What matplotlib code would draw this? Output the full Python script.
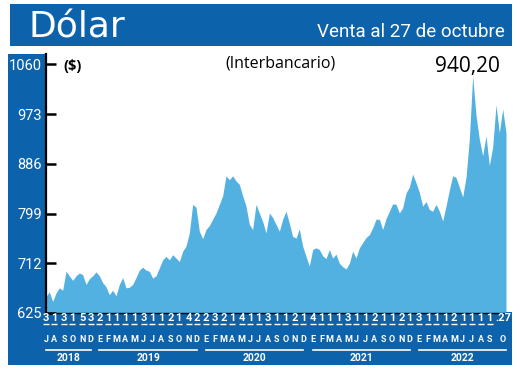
import matplotlib
matplotlib.use("Agg")
import matplotlib.pyplot as plt
import matplotlib.dates as mdates
from matplotlib.patches import Rectangle
from matplotlib.lines import Line2D
import matplotlib.transforms as mtrans
import pandas as pd

# ---------------- data ----------------
start_date = "2018-07-03"
end_date = "2022-10-27"
values = [654, 662, 645, 660, 669, 665, 698, 690, 682, 690,
          695, 692, 675, 685, 690, 697, 690, 678, 671, 657,
          665, 655, 675, 687, 669, 670, 675, 687, 700, 705,
          700, 698, 686, 690, 704, 718, 724, 718, 727, 721,
          715, 733, 742, 765, 815, 810, 768, 755, 771, 778,
          789, 800, 815, 830, 865, 858, 865, 856, 850, 830,
          812, 780, 771, 815, 800, 785, 765, 800, 792, 780,
          768, 789, 803, 782, 759, 756, 772, 742, 724, 707,
          736, 739, 736, 725, 720, 736, 721, 728, 712, 706,
          702, 712, 733, 721, 739, 748, 757, 762, 774, 789,
          789, 771, 790, 803, 816, 815, 800, 809, 835, 845,
          868, 853, 836, 812, 820, 806, 803, 815, 803, 786,
          812, 840, 865, 862, 845, 828, 862, 929, 1040, 971,
          929, 900, 935, 883, 915, 989, 940, 982, 940.2]

y_ticks = [625, 712, 799, 886, 973, 1060]
y_ticklabels = ["625", "712", "799", "886", "973", "1060"]

# first business day of each month, Jul 2018 .. Sep 2022
tick_days = [3, 1, 3, 1, 5, 3,
             2, 1, 1, 1, 1, 3, 1, 1, 2, 1, 4, 2,
             2, 3, 2, 1, 4, 1, 1, 3, 1, 1, 2, 1,
             4, 1, 1, 1, 3, 1, 1, 2, 1, 1, 2, 1,
             3, 1, 1, 1, 2, 1, 1, 1, 1]
last_label = ".27"
month_letters = ["J", "A", "S", "O", "N", "D"] + \
                ["E", "F", "M", "A", "M", "J", "J", "A", "S", "O", "N", "D"] * 3 + \
                ["E", "F", "M", "A", "M", "J", "J", "A", "S", "O"]
years = [2018, 2019, 2020, 2021, 2022]

title = "Dólar"
subtitle = "Venta al 27 de octubre"
unit = "($)"
market = "(Interbancario)"
last_value_text = "940,20"

# ---------------- style ----------------
W, H = 520, 369
BLUE = '#0d63ab'
FILL = '#53b1e2'
NARROW = 'Roboto'

fig = plt.figure(figsize=(W / 100, H / 100), dpi=100)
fig.patch.set_facecolor('white')


def fx(x):
    return x / W


def fy(y):
    return 1 - y / H


def rect(x0, y0, x1, y1, color, z=0.5):
    fig.patches.append(Rectangle((fx(x0), fy(y1)), fx(x1) - fx(x0), fy(y0) - fy(y1),
                                 transform=fig.transFigure, figure=fig,
                                 facecolor=color, edgecolor='none', zorder=z))


# banner, left column and bottom band
rect(10, 4, 512, 46, BLUE)
rect(8, 54, 46, 365, BLUE)
rect(8, 312, 512, 365, BLUE)

ax = fig.add_axes([fx(46), fy(313), fx(506) - fx(46), fy(54) - fy(313)], zorder=2)
ax.patch.set_alpha(0)

dates = pd.date_range(start_date, end_date, periods=len(values))
ax.fill_between(dates, values, 600, color=FILL, lw=0)
ax.set_xlim(dates[0], dates[-1])
ax.set_ylim(625, 1078)
ax.set_xticks([])
ax.set_yticks(y_ticks)
ax.set_yticklabels(y_ticklabels, color='white', fontsize=10.5, family=NARROW)
ax.tick_params(axis='y', direction='in', length=7.5, width=1.8, color='black', pad=3)
for s in ['top', 'right']:
    ax.spines[s].set_visible(False)
ax.spines['left'].set_linewidth(1.6)
ax.spines['bottom'].set_linewidth(1.0)

# titles
fig.text(fx(28), fy(38), title, color='white', fontsize=26, family='DejaVu Sans',
         ha='left', va='baseline')
fig.text(fx(505), fy(37), subtitle, color='white', fontsize=13.5, family=NARROW,
         ha='right', va='baseline')
fig.text(fx(63), fy(70), unit, color='black', fontsize=10.5, weight='bold',
         family='Open Sans', ha='left', va='baseline')
fig.text(fx(280), fy(67), market, color='black', fontsize=11.5, family='Open Sans',
         ha='center', va='baseline')
fig.text(fx(500), fy(72), last_value_text, color='black', fontsize=15, family='Open Sans',
         ha='right', va='baseline')

# bottom band labels
blend = mtrans.blended_transform_factory(ax.transData, fig.transFigure)
tick_dates = []
y0 = pd.Timestamp(start_date).year
m0 = pd.Timestamp(start_date).month
for i, d in enumerate(tick_days):
    mm = m0 - 1 + i
    tick_dates.append(pd.Timestamp(year=y0 + mm // 12, month=mm % 12 + 1, day=d))
label_dates = tick_dates + [pd.Timestamp(end_date)]
label_nums = [mdates.date2num(d) for d in label_dates]
labels = [str(d) for d in tick_days] + [last_label]

shift = mtrans.ScaledTranslation(-3 / 100, 0, fig.dpi_scale_trans)
for i, (xn, lab) in enumerate(zip(label_nums, labels)):
    tr = blend + shift if i == len(labels) - 1 else blend
    fig.text(xn, fy(318), lab, transform=tr, color='white', fontsize=8,
             weight='bold', family=NARROW, ha='center', va='center')
    if i < len(labels) - 1:
        fig.add_artist(Line2D([xn], [fy(324)], marker='_', markersize=5, mew=1.0,
                              color='white', transform=blend))
    fig.text(xn, fy(339), month_letters[i], transform=tr, color='white', fontsize=6.5,
             weight='bold', family=NARROW, ha='center', va='center')

for yr in years:
    xs = [xn for xn, d in zip(label_nums, label_dates) if d.year == yr]
    a, b = xs[0], xs[-1]
    fig.add_artist(Line2D([a, b], [fy(350), fy(350)], color='white', lw=1.2,
                          transform=blend))
    fig.text((a + b) / 2, fy(358), str(yr), transform=blend, color='white', fontsize=7.5,
             weight='bold', family=NARROW, ha='center', va='center')

fig.savefig('out.png', dpi=100, facecolor='white')
